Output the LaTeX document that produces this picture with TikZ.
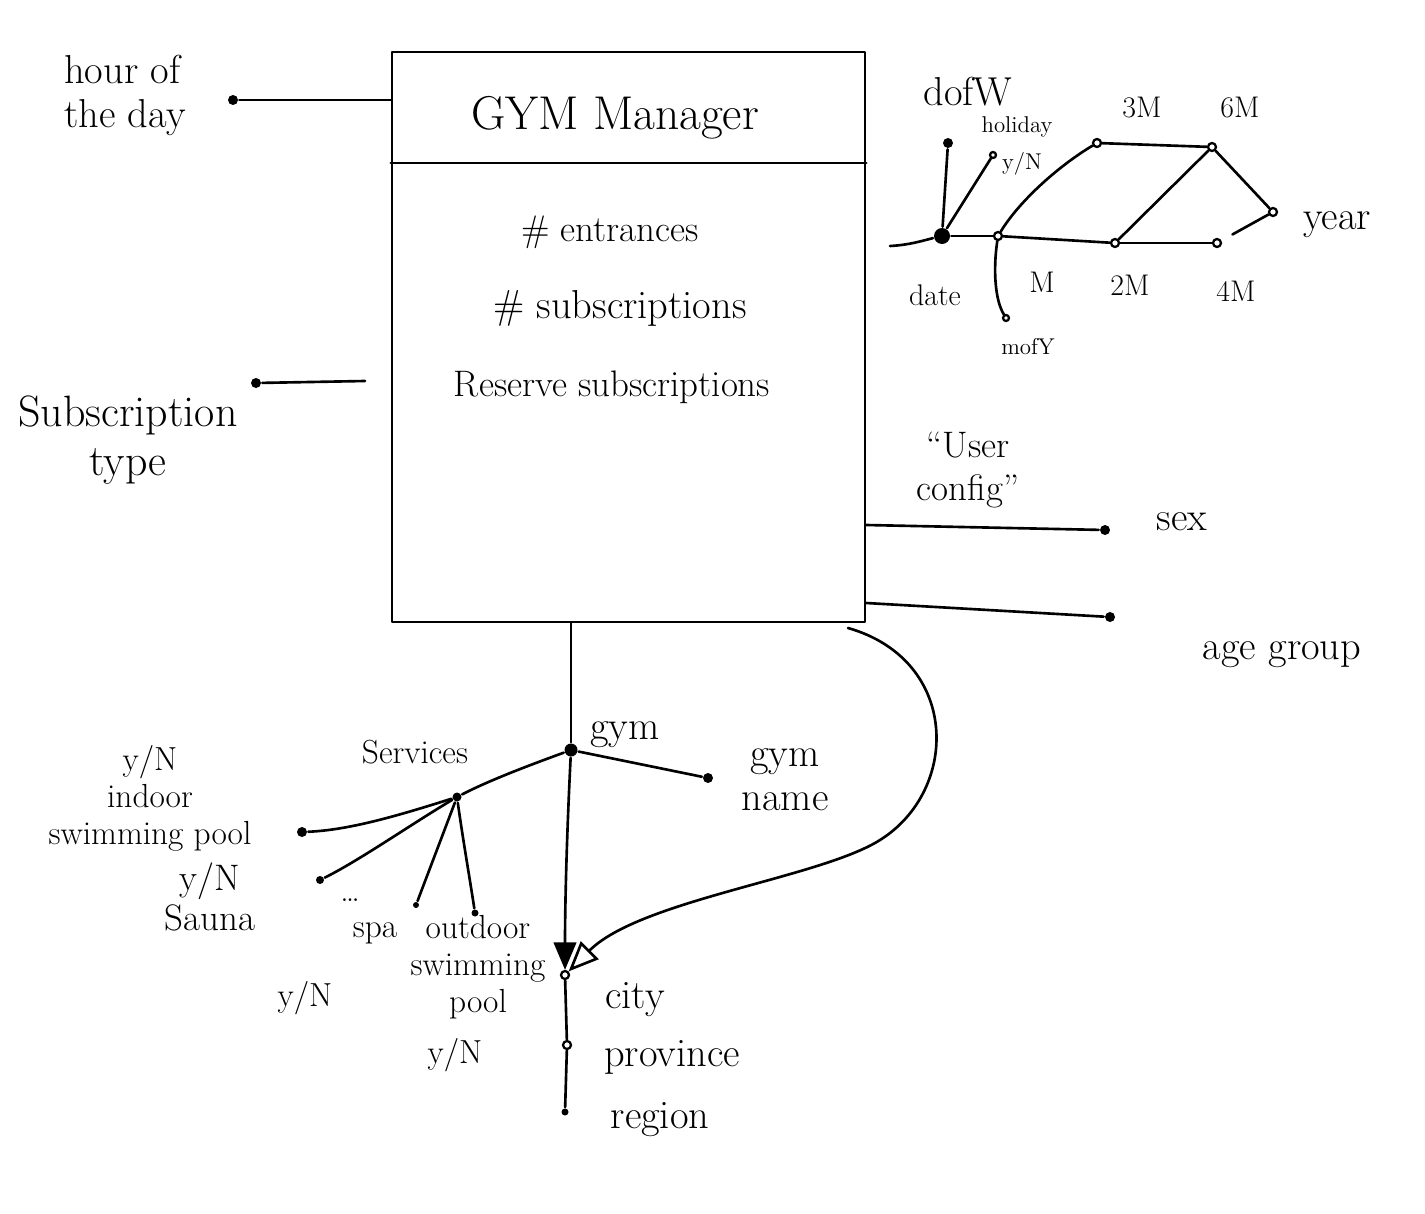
\documentclass[tikz,border=0pt]{standalone}
\usetikzlibrary{arrows.meta}
\begin{document}
\begin{tikzpicture}[x=0.02cm,y=-0.02cm,
  line width=1.5pt, line cap=round, line join=round,
  dot/.style={circle,fill=black,inner sep=0pt,minimum size=0.2cm},
  odot/.style={circle,draw=black,fill=white,line width=1.3pt,inner sep=0pt,minimum size=0.16cm},
  bigdot/.style={circle,fill=black,inner sep=0pt,minimum size=0.32cm},
  big/.style={font=\fontsize{27}{30}\selectfont},
  lbl/.style={font=\fontsize{23}{25}\selectfont,align=center},
  mid/.style={font=\fontsize{19}{21}\selectfont,align=center},
  tmid/.style={font=\fontsize{17}{18}\selectfont,align=center},
  sml/.style={font=\fontsize{13}{14}\selectfont,align=center}]
\useasboundingbox (0,0) rectangle (1425,1213);

% fact box
\node[draw,inner sep=0pt,minimum width=9.46cm,minimum height=11.4cm] (fact) at (628.5,337) {};
\draw (fact.west |- 0,163) coordinate (divl) -- (fact.east |- 0,163) coordinate (divr);
\node[big] (fname) at (615,118) {GYM Manager};
\node[font=\fontsize{21}{22}\selectfont] (m1) at (610,232) {\# entrances};
\node[font=\fontsize{23}{24}\selectfont] (m2) at (620,308) {\# subscriptions};
\node[font=\fontsize{21}{22}\selectfont] (m3) at (612,387) {Reserve subscriptions};

% hour of the day
\node[dot] (hod) at (233,100) {};
\node[lbl,align=left] (hodl) at (125,95) {hour of\\the day};
\draw (hod) -- (hod -| fact.west);

% subscription type
\node[dot] (st) at (256,383) {};
\coordinate (stend) at (365,381);
\draw (st) -- (stend);
\node[font=\fontsize{25}{28}\selectfont,align=center] (stl) at (128,440) {Subscription\\type};

% sex / age group
\node[dot] (sex) at (1105,530) {};
\node[lbl] (sexl) at (1182,522) {sex};
\draw (fact.east |- 0,525) -- (sex);
\node[dot] (age) at (1110,617) {};
\node[lbl] (agel) at (1282,655) {age group};
\draw (fact.east |- 0,603) -- (age);
\node[font=\fontsize{21}{25}\selectfont,align=center] (ucfg) at (968,470) {``User\\config''};

% time hierarchy
\node[bigdot] (date) at (942,236) {};
\coordinate (tstart) at (890,246);
\draw (tstart) .. controls (910,245) and (925,240) .. (date);
\node[tmid] (datel) at (935,295) {date};
\node[dot] (dofw) at (948,143) {};
\node[lbl] (dofwl) at (968,92) {dofW};
\draw (date) -- (dofw);
\node[odot,minimum size=0.12cm] (hol) at (993,155) {};
\node[sml] (holl) at (1017,127) {holiday};
\node[sml] (holyn) at (1022,164) {y/N};
\draw (date) -- (hol);
\node[odot] (mon) at (998,236) {};
\node[tmid] (monl) at (1042,282) {M};
\draw (date) -- (mon);
\node[odot,minimum size=0.12cm] (mofy) at (1006,318) {};
\node[sml] (mofyl) at (1028,347) {mofY};
\draw (mon) .. controls (993,270) and (995,300) .. (mofy);
\node[odot] (m3) at (1097,143) {};
\node[tmid] (m3l) at (1142,108) {3M};
\draw (mon) .. controls (1020,200) and (1060,165) .. (m3);
\node[odot] (m6) at (1212,147) {};
\node[tmid] (m6l) at (1240,108) {6M};
\draw (m3) -- (m6);
\node[odot] (yr) at (1273,212) {};
\node[lbl] (yrl) at (1337,225) {year};
\draw (m6) -- (yr);
\node[odot] (m2) at (1115,243) {};
\node[tmid] (m2l) at (1130,285) {2M};
\draw (mon) -- (m2);
\draw (m2) -- (m6);
\node[odot] (m4) at (1217,243) {};
\node[tmid] (m4l) at (1236,291) {4M};
\draw (m2) -- (m4);
\draw[shorten <=0.25cm] (m4) -- (yr);

% gym hierarchy
\node[bigdot,minimum size=0.26cm] (gym) at (571,750) {};
\node[lbl] (gyml) at (625,735) {gym};
\draw (fact.south -| gym) -- (gym);
\node[dot] (gname) at (708,778) {};
\node[lbl] (gnamel) at (785,780) {gym\\name};
\draw (gym) -- (gname);
\node[odot] (city) at (565,975) {};
\node[lbl] (cityl) at (635,1000) {city};
\draw[-{Triangle[length=0.55cm,width=0.45cm]}] (gym) .. controls (567,830) and (565,900) .. (city);
\draw[-{Triangle[open,length=0.6cm,width=0.5cm]}] (848,628) .. controls (960,660) and (960,790) .. (880,840) .. controls (820,878) and (640,900) .. (city);
\node[odot] (prov) at (567,1045) {};
\node[lbl] (provl) at (672,1057) {province};
\draw (city) -- (prov);
\node[dot,minimum size=0.14cm] (reg) at (565,1112) {};
\node[lbl] (regl) at (660,1120) {region};
\draw (prov) -- (reg);

% services
\node[dot,minimum size=0.18cm] (serv) at (457,797) {};
\node[mid] (servl) at (415,752) {Services};
\draw (gym) .. controls (530,765) and (490,780) .. (serv);
\node[dot] (indoor) at (302,832) {};
\node[mid] (indoorl) at (150,798) {y/N\\indoor\\swimming pool};
\draw (serv) .. controls (400,815) and (350,830) .. (indoor);
\node[dot,minimum size=0.16cm] (sauna) at (320,880) {};
\node[font=\fontsize{21}{23}\selectfont,align=center] (saunal) at (210,897) {y/N\\Sauna};
\draw (serv) .. controls (410,825) and (360,860) .. (sauna);
\node[dot,minimum size=0.12cm] (spa) at (416,905) {};
\node[mid] (dots) at (350,900) {\dots};
\node[mid] (spal) at (375,933) {spa};
\node[mid] (spayn) at (305,998) {y/N};
\draw (serv) -- (spa);
\node[dot,minimum size=0.14cm] (outd) at (475,913) {};
\node[mid] (outdl) at (478,967) {outdoor\\swimming\\pool};
\node[mid] (outdyn) at (455,1055) {y/N};
\draw (serv) .. controls (463,840) and (470,880) .. (outd);
\end{tikzpicture}
\end{document}
